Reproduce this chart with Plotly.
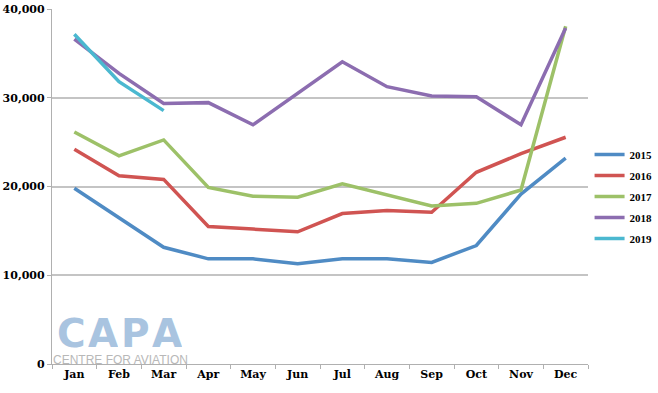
import plotly.graph_objects as go

months = ["Jan", "Feb", "Mar", "Apr", "May", "Jun", "Jul", "Aug", "Sep", "Oct", "Nov", "Dec"]
y2015 = [19800, 16500, 13150, 11850, 11850, 11300, 11850, 11850, 11450, 13350, 19150, 23200]
y2016 = [24200, 21200, 20800, 15500, 15200, 14900, 16950, 17300, 17100, 21600, 23700, 25550]
y2017 = [26150, 23450, 25250, 19900, 18900, 18800, 20300, 19100, 17800, 18100, 19600, 38050]
y2018 = [36600, 32750, 29350, 29450, 26950, 30500, 34050, 31250, 30200, 30100, 26950, 37850]
y2019 = [37150, 31800, 28550]

series = [
    ("2015", y2015, "#4f8bc4"),
    ("2016", y2016, "#d05452"),
    ("2017", y2017, "#9dc168"),
    ("2018", y2018, "#8c6db0"),
    ("2019", y2019, "#4bb8d0"),
]

fig = go.Figure()
for name, vals, color in series:
    fig.add_trace(go.Scatter(
        x=months[:len(vals)], y=vals, name=name, mode="lines",
        line=dict(color=color, width=3.5), legendgroup=name,
    ))

serif = "DejaVu Serif"
fig.update_layout(
    width=658, height=393,
    margin=dict(l=52, r=70, t=9, b=29, autoexpand=False),
    paper_bgcolor="white", plot_bgcolor="white",
    showlegend=True,
    legend=dict(
        xref="container", yref="container",
        x=0.896, y=0.644, xanchor="left", yanchor="top",
        font=dict(family="Liberation Serif", size=11, color="black", weight="bold"),
        tracegroupgap=2, itemwidth=30, bgcolor="rgba(0,0,0,0)",
    ),
    xaxis=dict(
        type="category", categoryorder="array", categoryarray=months,
        range=[-0.5, 11.5], automargin=False,
        showline=True, linecolor="#b0b0b0", linewidth=1.2,
        ticks="outside", tickson="boundaries", ticklen=4, tickcolor="#b0b0b0",
        showgrid=False,
        tickfont=dict(family=serif, size=11, color="black", weight="bold"),
    ),
    yaxis=dict(
        range=[0, 40000], tickvals=[0, 10000, 20000, 30000, 40000],
        ticktext=["0", "10,000", "20,000", "30,000", "40,000"],
        automargin=False,
        showline=True, linecolor="#b0b0b0", linewidth=1.2,
        ticks="outside", ticklen=4, tickcolor="#b0b0b0",
        showgrid=True, gridcolor="#c4c4c4", gridwidth=1.5,
        zeroline=False,
        tickfont=dict(family=serif, size=11, color="black", weight="bold"),
    ),
)

# CAPA logo watermark (letters placed individually to mimic the wide logotype)
logo_letters = ["C", "A", "P", "A"]
logo_shift = [19, 51, 83, 115]
for ch, dx in zip(logo_letters, logo_shift):
    fig.add_annotation(
        xref="paper", yref="paper", x=0, y=0.087, xshift=dx,
        xanchor="center", yanchor="middle", height=32,
        text=ch, showarrow=False,
        font=dict(family="DejaVu Sans", size=39, color="#a9c4e0", weight="bold"),
    )
fig.add_annotation(
    xref="paper", yref="paper", x=-0.002, y=-0.012, xanchor="left", yanchor="bottom",
    height=12,
    text="CENTRE FOR AVIATION", showarrow=False,
    font=dict(family="Liberation Sans", size=12, color="#b8b8b8"),
)

fig.write_html("out.html", config={"displayModeBar": False},
               post_script="document.body.style.margin='0';")
